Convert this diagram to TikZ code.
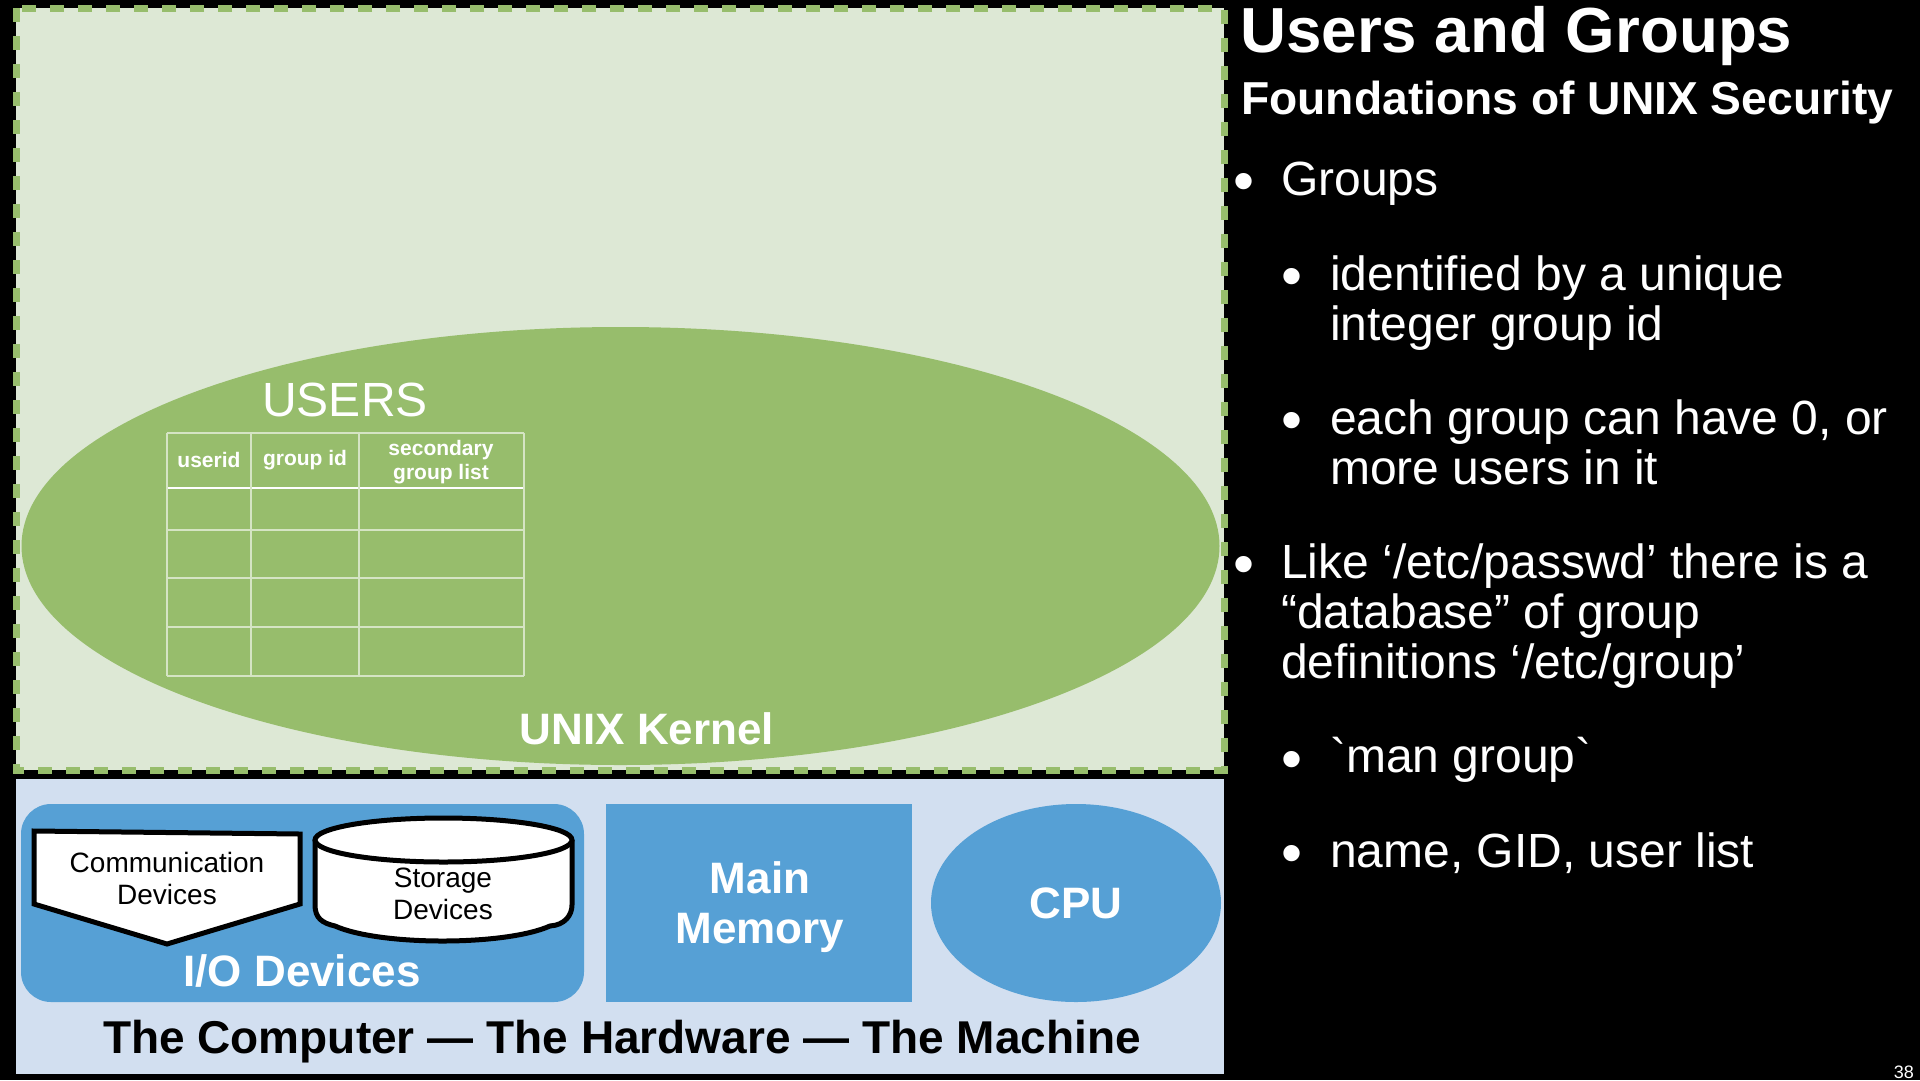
\documentclass[tikz,border=0pt]{standalone}
\usepackage{fontspec}
\newfontfamily\slidefont{Liberation Sans}
\usetikzlibrary{shapes.geometric}

\begin{document}
\begin{tikzpicture}[x=1pt,y=-1pt,
        every node/.style={font=\slidefont},
        boldwhite/.style={text=white,inner sep=0pt,align=center,font=\slidefont\bfseries\fontsize{44}{50}\selectfont},
        devicebox/.style={draw=black,line width=5pt,fill=white,line join=miter},
        devicetext/.style={text=black,inner sep=0pt,align=center,font=\slidefont\fontsize{28}{32}\selectfont},
        bullettext/.style={text=white,inner sep=0pt,anchor=base west,align=left,font=\slidefont\fontsize{48}{50}\selectfont},
        bulletdot/.style={text=white,inner sep=0pt,anchor=base west,font=\slidefont\fontsize{60}{60}\selectfont},
        headtext/.style={text=white,inner sep=0pt,align=center,font=\slidefont\bfseries\fontsize{21}{24}\selectfont}
    ]
    \def\lvlone{1281}
    \def\lvltwo{1330}
    \definecolor{kernelpale}{HTML}{DDE8D5}
    \definecolor{kernelgreen}{HTML}{97BD6C}
    \definecolor{hardpale}{HTML}{D2DFF0}
    \definecolor{hardblue}{HTML}{56A0D5}

    \fill[black] (0,0) rectangle (1920,1080);
    \useasboundingbox (0,0) rectangle (1920,1080);

    % kernel area
    \draw[fill=kernelpale,draw=kernelgreen,line width=7pt,dash pattern=on 14pt off 14pt] (16,8) rectangle (1224,770);
    \fill[kernelgreen] (620.5,546) ellipse [x radius=599,y radius=219];
    \node[boldwhite] (kernel) at (647,729) {UNIX Kernel};
    \node[text=white,inner sep=0pt,font=\slidefont\fontsize{48}{56}\selectfont] (users) at (345,400) {USERS};

    % users table
    \foreach \y in {433,530,578,627,676}
        \draw[white!60!kernelgreen,line width=1.2pt] (167,\y) -- (524,\y);
    \draw[white,line width=2.6pt] (167,488) -- (524,488);
    \foreach \x in {167,251,359,524}
        \draw[white!60!kernelgreen,line width=1.2pt] (\x,433) -- (\x,676);
    \node[headtext] (userid) at (209,460) {userid};
    \node[headtext] (groupid) at (305,460) {group id};
    \node[headtext] (seclist) at (441,462) {secondary\\group list};

    % hardware
    \fill[hardpale] (16,779) rectangle (1224,1074);
    \fill[hardblue,rounded corners=30pt] (21,804) rectangle (584,1002);
    \node[boldwhite] (iodev) at (302,971) {I/O Devices};
    \fill[hardblue] (606,804) rectangle (912,1002);
    \node[boldwhite] (memory) at (760,907) {Main\\Memory};
    \node[boldwhite,fill=hardblue,ellipse,minimum width=290pt,minimum height=198pt] (cpu) at (1076,903) {CPU};
    \node[text=black,inner sep=0pt,font=\slidefont\bfseries\fontsize{46}{50}\selectfont] (machine) at (622,1042) {The Computer — The Hardware — The Machine};

    \draw[devicebox] (34,831) -- (300,834) -- (300,904) -- (167,944) -- (34,904) -- cycle;
    \node[devicetext] (comm) at (167,878) {Communication\\Devices};
    \draw[devicebox] (315,840) -- (315,905) .. controls (315,918) and (322,923) .. (335,926) .. controls (380,946) and (505,946) .. (550,926) .. controls (565,925) and (572,915) .. (572,905) -- (572,840);
    \draw[devicebox] (443.5,840) ellipse [x radius=128.5,y radius=22];
    \node[devicetext] (storage) at (443,894) {Storage\\Devices};

    % slide text
    \node[text=white,inner sep=0pt,anchor=base west,font=\slidefont\bfseries\fontsize{63.7}{66}\selectfont] (title) at (1240,52) {Users and Groups};
    \node[text=white,inner sep=0pt,anchor=base west,font=\slidefont\bfseries\fontsize{46.2}{50}\selectfont] (subtitle) at (1241,114) {Foundations of UNIX Security};

    \node[bullettext] (groups) at (\lvlone,195) {Groups};
    \node[bullettext] (ident) at (\lvltwo,340) {identified by a unique\\integer group id};
    \node[bullettext] (each) at (\lvltwo,484) {each group can have 0, or\\more users in it};
    \node[bullettext] (like) at (\lvlone,678) {Like ‘/etc/passwd’ there is a\\“database” of group\\definitions ‘/etc/group’};
    \node[bullettext] (man) at (\lvltwo,772) {`man group`};
    \node[bullettext] (name) at (\lvltwo,867) {name, GID, user list};

    \foreach \nm/\x/\y in {bga/1233/201,bgb/1281/296,bgc/1281/440,bgd/1233/584,bge/1281/779,bgf/1281/873}
        \node[bulletdot] (\nm) at (\x,\y) {•};

    \node[text=white,inner sep=0pt,anchor=base east,font=\slidefont\fontsize{18}{20}\selectfont] (pagenum) at (1914,1078) {38};
\end{tikzpicture}
\end{document}
